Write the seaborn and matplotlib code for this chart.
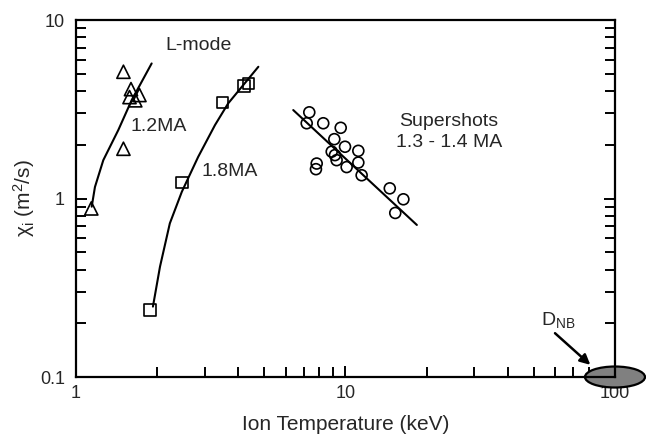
import matplotlib
matplotlib.use("Agg")
import matplotlib.pyplot as plt
import matplotlib.transforms as mtrans
from matplotlib.patches import Ellipse
import seaborn as sns

# L-mode 1.2 MA (triangles)
lmode12_te = [1.14, 1.50, 1.60, 1.58, 1.66, 1.72, 1.50]
lmode12_chi = [0.88, 5.13, 4.10, 3.70, 3.55, 3.80, 1.90]
lmode12_fit_te = [1.144, 1.176, 1.263, 1.436, 1.610, 1.909]
lmode12_fit_chi = [0.90, 1.16, 1.64, 2.42, 3.56, 5.71]

# L-mode 1.8 MA (squares)
lmode18_te = [1.88, 2.47, 3.49, 4.20, 4.36]
lmode18_chi = [0.237, 1.23, 3.44, 4.27, 4.42]
lmode18_fit_te = [1.93, 2.05, 2.23, 2.47, 2.84, 3.28, 3.67, 4.75]
lmode18_fit_chi = [0.248, 0.415, 0.726, 1.09, 1.71, 2.58, 3.41, 5.47]

# Supershots 1.3 - 1.4 MA (circles)
super_te = [7.34, 7.18, 8.27, 9.60, 9.09, 9.96, 11.16, 8.89, 9.14, 9.27,
            7.82, 7.77, 11.16, 10.1, 11.48, 14.6, 16.4, 15.3]
super_chi = [3.04, 2.64, 2.64, 2.49, 2.15, 1.95, 1.85, 1.83, 1.75, 1.64,
             1.57, 1.46, 1.59, 1.50, 1.35, 1.14, 0.99, 0.83]
super_fit_te = [6.40, 18.4]
super_fit_chi = [3.13, 0.711]

sns.set_theme(style="ticks")
plt.rcParams['font.family'] = ['Liberation Sans', 'DejaVu Sans']
plt.rcParams['mathtext.fontset'] = 'custom'
plt.rcParams['mathtext.rm'] = 'Liberation Sans'
plt.rcParams['mathtext.it'] = 'Liberation Sans:italic'

fig = plt.figure(figsize=(6.46, 4.34), dpi=100)
ax = fig.add_axes([0.1176, 0.1313, 0.8344, 0.8226])

line_kw = dict(color="black", linewidth=1.5, sort=False, estimator=None, legend=False)
sns.lineplot(x=lmode12_fit_te, y=lmode12_fit_chi, ax=ax, **line_kw)
sns.lineplot(x=lmode18_fit_te, y=lmode18_fit_chi, ax=ax, **line_kw)
sns.lineplot(x=super_fit_te, y=super_fit_chi, ax=ax, **line_kw)

sns.scatterplot(x=lmode12_te, y=lmode12_chi, ax=ax, marker="^", s=90,
                facecolor="none", edgecolor="black", linewidth=1.2, zorder=3)
sns.scatterplot(x=lmode18_te, y=lmode18_chi, ax=ax, marker="s", s=68,
                facecolor="none", edgecolor="black", linewidth=1.2, zorder=3)
sns.scatterplot(x=super_te, y=super_chi, ax=ax, marker="o", s=62,
                facecolor="none", edgecolor="black", linewidth=1.2, zorder=3)

ax.set_xscale("log")
ax.set_yscale("log")
ax.set_xlim(1, 100)
ax.set_ylim(0.1, 10)
ax.set_xticks([1, 10, 100])
ax.set_xticklabels(["1", "10", "100"])
ax.set_yticks([0.1, 1, 10])
ax.set_yticklabels(["0.1", "1", "10"])

for s in ax.spines.values():
    s.set_linewidth(1.6)
    s.set_color("black")
ax.tick_params(which="both", direction="in", left=True, right=True, bottom=True, top=False,
               width=1.4, color="black", labelsize=13)
ax.tick_params(which="major", length=8)
ax.tick_params(which="minor", length=7)
ax.tick_params(axis="x", which="major", pad=6)
ax.tick_params(axis="y", which="major", pad=8)

ax.set_xlabel("Ion Temperature (keV)", fontsize=15, labelpad=9)
ax.set_ylabel("χ$_{\\rm i}$ (m$^{2}$/s)", fontsize=15, labelpad=2)

# annotations
ax.text(2.86, 7.24, "L-mode", fontsize=14, ha="center", va="center")
ax.text(1.59, 2.52, "1.2MA", fontsize=14, ha="left", va="center")
ax.text(2.93, 1.41, "1.8MA", fontsize=14, ha="left", va="center")
ax.text(24.2, 2.37, "Supershots\n1.3 - 1.4 MA", fontsize=14, ha="center", va="center",
        multialignment="center", linespacing=1.3)

# D_NB ellipse at the corner
trans = fig.dpi_scale_trans + mtrans.ScaledTranslation(100, 0.1, ax.transData)
ell = Ellipse((0, 0), width=0.60, height=0.21, transform=trans, facecolor="#808080",
              edgecolor="black", linewidth=1.6, clip_on=False, zorder=2)
ax.add_patch(ell)
ax.text(61.4, 0.209, r"D$_{\rm NB}$", fontsize=14, ha="center", va="center")
ax.annotate("", xy=(81, 0.117), xytext=(59.9, 0.176),
            arrowprops=dict(arrowstyle="-|>", color="black", lw=1.8, mutation_scale=15,
                            shrinkA=0, shrinkB=0))

fig.savefig("out.png", dpi=100)
